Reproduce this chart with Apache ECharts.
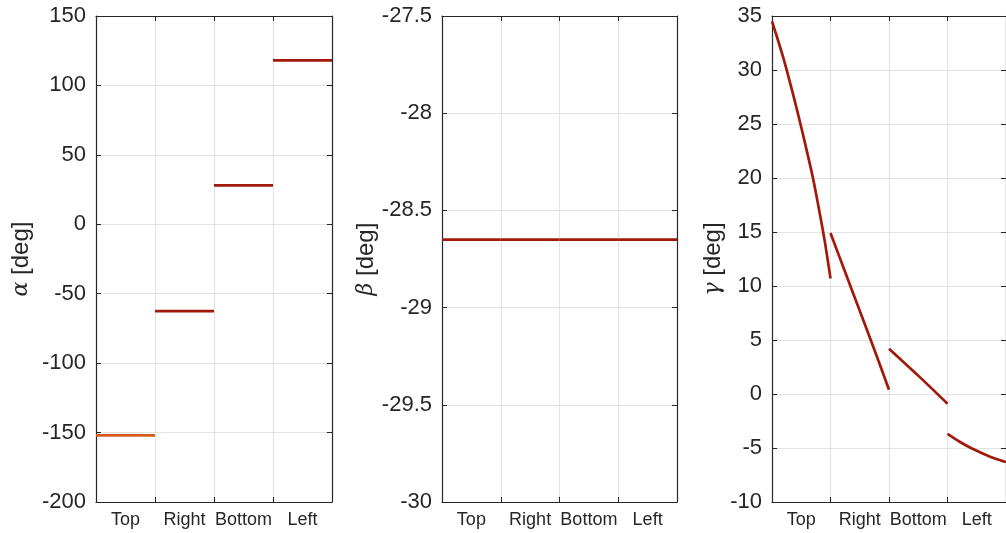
<!DOCTYPE html>
<html>
<head>
<meta charset="utf-8">
<script src="https://cdn.jsdelivr.net/npm/echarts@6/dist/echarts.min.js"></script>
<style>
html,body{margin:0;padding:0;background:#fff;}
#main{width:1006px;height:533px;}
</style>
</head>
<body>
<div id="main"></div>
<script>
// ---- data ----
const categories = ['Top', 'Right', 'Bottom', 'Left'];
const alphaValues = [-152, -62.5, 28, 118];
const betaValues = [-28.65, -28.65, -28.65, -28.65];
const gammaTop = [[0,34.5],[0.1,32.8],[0.2,31.0],[0.3,29.0],[0.4,26.9],[0.5,24.7],[0.6,22.4],[0.7,20.0],[0.8,17.2],[0.9,14.2],[1.0,10.7]];
const gammaRight = [[1,14.9],[1.25,11.3],[1.5,7.7],[1.75,4.1],[2,0.4]];
const gammaBottom = [[2,4.2],[2.5,1.7],[3,-0.9]];
const gammaLeft = [[3,-3.7],[3.2,-4.4],[3.4,-5.0],[3.6,-5.5],[3.8,-5.95],[4,-6.3]];
const alphaTicks = {min: -200, max: 150, interval: 50};
const betaTicks = {min: -30, max: -27.5, interval: 0.5};
const gammaTicks = {min: -10, max: 35, interval: 5};

// ---- style ----
const FONT = 'Liberation Sans, Arial, Helvetica, sans-serif';
const INK = '#262626';
const GRIDC = '#e3e3e3';
const RED = '#A0190A';
const ORANGE = '#D65A1E';

const grids = [
  {left: 96, top: 16, width: 236, height: 486},
  {left: 442, top: 16, width: 235, height: 486},
  {left: 772, top: 16, width: 236, height: 486}
];

const xAxes = [], yAxes = [];
const names = [
  {sym: 'α', gap: 63, ticks: alphaTicks, dec: 0},
  {sym: 'β', gap: 62, ticks: betaTicks, dec: 1},
  {sym: 'γ', gap: 47, ticks: gammaTicks, dec: 0}
];
const tickStyle = {show: true, inside: true, length: 5, lineStyle: {color: INK, width: 1}};
const lineStyleAx = {show: true, onZero: false, lineStyle: {color: INK, width: 1.2}};

grids.forEach((g, i) => {
  xAxes.push({type: 'value', gridIndex: i, min: 0, max: 4, interval: 1, position: 'bottom',
    axisLine: lineStyleAx, axisTick: tickStyle, axisLabel: {show: false},
    splitLine: {show: true, lineStyle: {color: GRIDC, width: 1}}});
  xAxes.push({type: 'category', gridIndex: i, data: categories, position: 'bottom', boundaryGap: true,
    axisLine: {show: false}, axisTick: {show: false}, splitLine: {show: false},
    axisLabel: {show: true, color: INK, fontFamily: FONT, fontSize: 18, margin: 9, interval: 0}});
  xAxes.push({type: 'value', gridIndex: i, min: 0, max: 4, interval: 1, position: 'top',
    axisLine: lineStyleAx, axisTick: tickStyle, axisLabel: {show: false}, splitLine: {show: false}});
  const n = names[i];
  yAxes.push({type: 'value', gridIndex: i, position: 'left', min: n.ticks.min, max: n.ticks.max, interval: n.ticks.interval,
    axisLine: lineStyleAx, axisTick: tickStyle,
    axisLabel: {show: true, color: INK, fontFamily: FONT, fontSize: 22, margin: 10,
      formatter: v => (n.dec ? (Math.round(v * 10) / 10).toString() : v.toString())},
    splitLine: {show: true, lineStyle: {color: GRIDC, width: 1}},
    name: '{g|' + n.sym + '} [deg]', nameLocation: 'middle', nameGap: n.gap,
    nameTextStyle: {color: INK, fontFamily: FONT, fontSize: 24,
      rich: {g: {fontFamily: 'DejaVu Serif', fontStyle: 'italic', fontSize: 22, color: INK}}}});
  yAxes.push({type: 'value', gridIndex: i, position: 'right', min: n.ticks.min, max: n.ticks.max, interval: n.ticks.interval,
    axisLine: lineStyleAx, axisTick: tickStyle, axisLabel: {show: false}, splitLine: {show: false}});
});

const series = [];
function seg(gi, data, color, smooth) {
  series.push({type: 'line', xAxisIndex: gi * 3, yAxisIndex: gi * 2, data: data,
    showSymbol: false, symbol: 'none', silent: true, animation: false, smooth: smooth || false,
    lineStyle: {color: color, width: 2.7, cap: 'butt'}});
}
alphaValues.forEach((v, i) => seg(0, [[i, v], [i + 1, v]], i === 0 ? ORANGE : RED));
betaValues.forEach((v, i) => seg(1, [[i, v], [i + 1, v]], RED));
[gammaTop, gammaRight, gammaBottom, gammaLeft].forEach(d => seg(2, d, RED, 0.3));

const chart = echarts.init(document.getElementById('main'), null, {renderer: 'canvas'});
chart.setOption({
  animation: false,
  backgroundColor: '#ffffff',
  grid: grids,
  xAxis: xAxes,
  yAxis: yAxes,
  series: series
});
</script>
</body>
</html>
